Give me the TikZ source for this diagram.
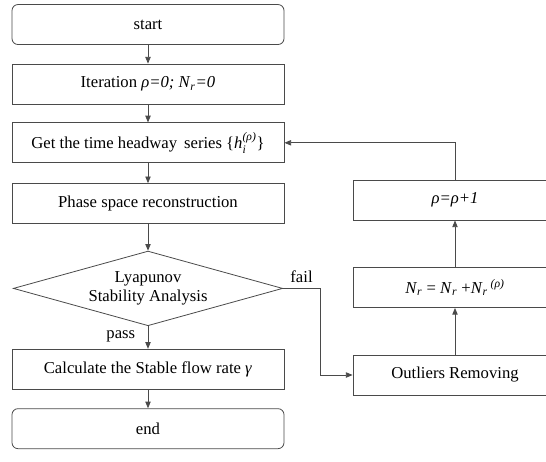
\documentclass[tikz,border=0pt]{standalone}
\usepackage{amsmath}
\usepackage{fontspec}
\setmainfont{Liberation Serif}
\usetikzlibrary{positioning,arrows.meta,shapes.geometric}
\definecolor{fline}{HTML}{4A4A4A}
\newcommand{\isub}[1]{\textsubscript{\textit{#1}}}
\newcommand{\isup}[1]{\textsuperscript{\textit{#1}}}

\begin{document}
\begin{tikzpicture}[font=\fontsize{12.5}{14.5}\selectfont, node distance=14pt,
  blk/.style={draw=fline, line width=0.6pt, minimum width=204pt, minimum height=30pt, align=center},
  term/.style={blk, rounded corners=4.5pt},
  side/.style={blk, minimum width=153pt},
  test/.style={draw=fline, line width=0.6pt, diamond, aspect=3.6, inner sep=0pt,
    minimum width=202pt, minimum height=56pt, align=center},
  arr/.style={-{Triangle[length=5pt,width=4pt]}, draw=fline, line width=0.6pt}]
\clip (0,0) rectangle (409.5pt,-345.75pt);
\useasboundingbox (0,0) rectangle (409.5pt,-345.75pt);
\node[term] (st) at (111pt,-18.4pt) {start};
\node[blk, below=of st] (it) {Iteration \textit{ρ=0; N}\isub{r}\textit{=0}};
\node[blk, below=13.5pt of it] (get) {Get the time headway\, series \{$\textit{h}_{\textit{i}}^{\textit{(ρ)}}$\}};
\node[blk, below=15pt of get] (ph) {Phase space reconstruction};
\node[test, below=20pt of ph] (ly) {Lyapunov\\Stability Analysis};
\node[blk, below=17pt of ly] (cal) {Calculate the Stable flow rate \textit{γ}};
\node[term, below=of cal] (en) {end};
% right branch
\node[side] (out) at (341.25pt,-281.25pt) {Outliers Removing};
\node[side, above=35pt of out] (nr) {\textit{N}\isub{r} = \textit{N}\isub{r} +\textit{N}\isub{r}\,\isup{(ρ)}};
\node[side, above=35pt of nr] (rho) {\textit{ρ=ρ+1}};
\coordinate[right=28pt of ly.east] (fb);
\draw[arr] (st)--(it); \draw[arr] (it)--(get); \draw[arr] (get)--(ph); \draw[arr] (ph)--(ly);
\draw[arr] (ly)--(cal) node[pos=0.45, left=6pt] {pass};
\draw[arr] (cal)--(en);
\draw[arr] (ly.east)--(fb) |- (out.west);
\node[above right=1pt and 2pt of ly.east] (fl) {fail};
\draw[arr] (out)--(nr); \draw[arr] (nr)--(rho);
\draw[arr] (rho.north) |- (get.east);
\end{tikzpicture}
\end{document}
